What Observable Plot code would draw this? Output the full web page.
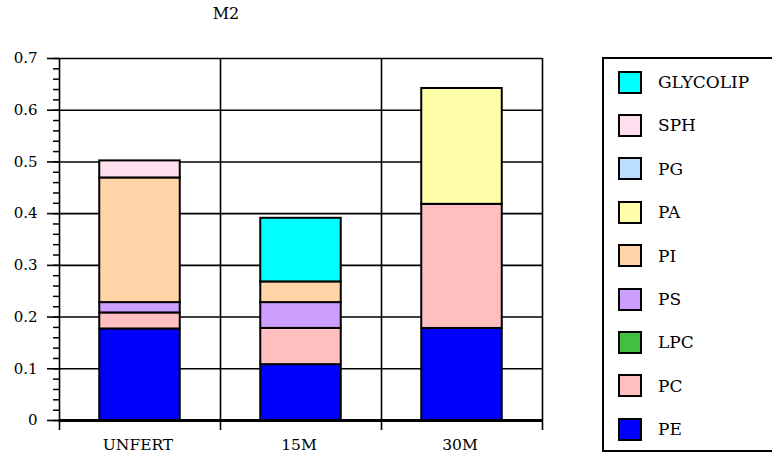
<!DOCTYPE html>
<html>
<head>
<meta charset="utf-8">
<script src="https://cdn.jsdelivr.net/npm/d3@7"></script>
<script src="https://cdn.jsdelivr.net/npm/@observablehq/plot@0.6"></script>
<style>
  html, body { margin: 0; padding: 0; background: #fff; overflow: hidden; }
  #wrap { position: relative; width: 772px; height: 454px; overflow: hidden; font-family: "DejaVu Serif", serif; color: #000; }
  #title { position: absolute; top: 4px; left: 226px; transform: translateX(-50%); font-size: 16px; }
  #chart { position: absolute; left: 0; top: 0; }
  #legend { position: absolute; left: 602px; top: 57px; width: 200px; height: 391px; border: 2px solid #000; box-sizing: content-box; }
  .item { position: absolute; left: 14px; height: 24px; display: flex; align-items: center; }
  .sw { width: 20px; height: 19px; border: 2px solid #000; }
  .lab { margin-left: 16px; font-size: 17px; }
  svg text { font-family: "DejaVu Serif", serif; }
</style>
</head>
<body>
<div id="wrap">
  <div id="chart"></div>
  <div id="title">M2</div>
  <div id="legend"></div>
</div>
<script>
const title = "M2";
const categories = ["UNFERT", "15M", "30M"];
const series = ["PE", "PC", "LPC", "PS", "PI", "PA", "PG", "SPH", "GLYCOLIP"];
const colors = ["#0000ff", "#ffbfbf", "#40bf40", "#cc9fff", "#ffd5a8", "#ffffaa", "#bbddff", "#ffdfee", "#00ffff"];
const PE       = [0.177, 0.108, 0.178];
const PC       = [0.031, 0.070, 0.240];
const LPC      = [0.000, 0.000, 0.000];
const PS       = [0.020, 0.050, 0.000];
const PI       = [0.241, 0.040, 0.000];
const PA       = [0.000, 0.000, 0.224];
const PG       = [0.000, 0.000, 0.000];
const SPH      = [0.033, 0.000, 0.000];
const GLYCOLIP = [0.000, 0.123, 0.000];
const yMajor = [0, 0.1, 0.2, 0.3, 0.4, 0.5, 0.6, 0.7];
const yMinor = d3.range(0, 36).map(i => i / 50);

const values = {PE, PC, LPC, PS, PI, PA, PG, SPH, GLYCOLIP};
const rows = [];
categories.forEach((c, i) => {
  let acc = 0;
  series.forEach((s, k) => {
    const v = values[s][i];
    if (v > 0) rows.push({cat: c, i, s, k, y1: acc, y2: acc + v});
    acc += v;
  });
});
const bounds = d3.range(0, categories.length + 1);
const centers = categories.map((c, i) => i + 0.5);

const chart = Plot.plot({
  width: 772,
  height: 454,
  marginLeft: 59,
  marginRight: 230,
  marginTop: 58,
  marginBottom: 34,
  style: {fontFamily: "DejaVu Serif, serif", fontSize: "15px", color: "#000", background: "#fff"},
  x: {type: "linear", domain: [0, categories.length], axis: null},
  y: {domain: [0, 0.7], axis: null},
  marks: [
    Plot.ruleY(yMajor.filter(d => d > 0), {x1: 0, x2: categories.length, stroke: "#000", strokeWidth: 1.6}),
    Plot.ruleX(bounds, {y1: 0, y2: 0.7, stroke: "#000", strokeWidth: 1.6}),
    Plot.rect(rows, {x1: d => d.i + 0.25, x2: d => d.i + 0.75, y1: "y1", y2: "y2", fill: d => colors[d.k], stroke: "#000", strokeWidth: 2}),
    Plot.ruleY([0], {x1: 0, x2: categories.length, stroke: "#000", strokeWidth: 3}),
    Plot.axisY(yMinor, {anchor: "left", tickSize: 6, strokeWidth: 1.5, tickFormat: () => ""}),
    Plot.axisY(yMajor, {anchor: "left", tickSize: 12, tickPadding: 10, strokeWidth: 1.6, fontSize: 15,
      tickFormat: d => d === 0 ? "0" : d.toFixed(1)}),
    Plot.axisX(bounds, {anchor: "bottom", tickSize: 10, strokeWidth: 1.6, tickFormat: () => ""}),
    Plot.axisX(centers, {anchor: "bottom", tickSize: 0, tickPadding: 18, fontSize: 15.5, dx: -2,
      tickFormat: d => categories[Math.floor(d)]})
  ]
});
document.getElementById("chart").appendChild(chart);

const legend = document.getElementById("legend");
const order = series.slice().reverse();
order.forEach((s, j) => {
  const k = series.indexOf(s);
  const item = document.createElement("div");
  item.className = "item";
  item.style.top = (11 + j * 43.4) + "px";
  const sw = document.createElement("div");
  sw.className = "sw";
  sw.style.background = colors[k];
  const lab = document.createElement("span");
  lab.className = "lab";
  lab.textContent = s;
  item.appendChild(sw);
  item.appendChild(lab);
  legend.appendChild(item);
});
document.getElementById("title").textContent = title;
</script>
</body>
</html>
